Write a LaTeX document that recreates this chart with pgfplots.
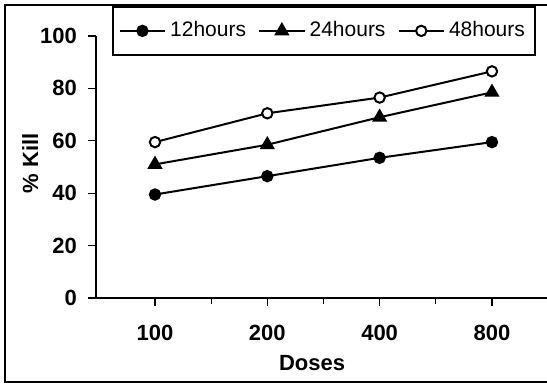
\documentclass[border=0pt]{standalone}
\usepackage{fontspec}
\setmainfont{Liberation Sans}
\usepackage{pgfplots}
\pgfplotsset{compat=1.18}
\begin{document}
\begin{tikzpicture}
  \useasboundingbox (0,0) rectangle (273.5pt,195.5pt);
  \clip (0,0) rectangle (273.5pt,195.5pt);
  % chart frame (right side is cut off in the scan)
  \draw[line width=1.2pt] (290pt,193pt) -- (2.5pt,193pt) -- (2.5pt,4.5pt) -- (290pt,4.5pt);
  \begin{axis}[
      at={(48pt,46.5pt)}, anchor=south west,
      scale only axis,
      width=225.5pt, height=131pt,
      xmin=-0.525, xmax=3.49,
      ymin=0, ymax=100,
      axis lines=left,
      axis line style={-, line width=0.8pt},
      xtick={0,1,2,3},
      xticklabels={100,200,400,800},
      minor xtick={0.5,1.5,2.5},
      ytick={0,20,40,60,80,100},
      tick align=outside,
      major tick length=4pt, minor tick length=3pt,
      tick style={black, line width=0.6pt},
      /pgf/number format/assume math mode=true,
      ticklabel style={font=\bfseries\fontsize{11}{13}\selectfont},
      xticklabel style={yshift=-6pt},
      yticklabel style={xshift=-2pt},
      xlabel={\bfseries Doses},
      ylabel={\bfseries \% Kill},
      label style={font=\bfseries\fontsize{11}{13}\selectfont},
      xlabel style={at={(axis description cs:0.479,-0.248)}, anchor=center},
      ylabel style={at={(axis description cs:-0.146,0.515)}, anchor=center},
      legend columns=3,
      legend cell align=left,
      legend style={
          at={(axis description cs:0.035,1.115)}, anchor=north west,
          draw=black, line width=0.9pt,
          font=\fontsize{10.5}{12}\selectfont,
          inner xsep=3pt, inner ysep=5.5pt,
          /tikz/every even column/.append style={column sep=4pt}
        },
      legend image code/.code={
          \draw[mark repeat=2, mark phase=2, #1]
          plot coordinates {(0cm,0cm) (0.4cm,0cm) (0.8cm,0cm)};
        },
    ]

    % 12 hours
    \addplot[black, line width=1pt, mark=*, mark size=2.6pt]
    coordinates {(0,39.5) (1,46.5) (2,53.5) (3,59.5)};

    % 24 hours
    \addplot[black, line width=1pt, mark=triangle*, mark size=3.4pt]
    coordinates {(0,51) (1,58.5) (2,69) (3,78.5)};

    % 48 hours
    \addplot[black, line width=1pt, mark=*, mark size=2.6pt, mark options={fill=white}]
    coordinates {(0,59.5) (1,70.5) (2,76.5) (3,86.5)};

    \legend{12hours, 24hours, 48hours}
  \end{axis}
\end{tikzpicture}
\end{document}
